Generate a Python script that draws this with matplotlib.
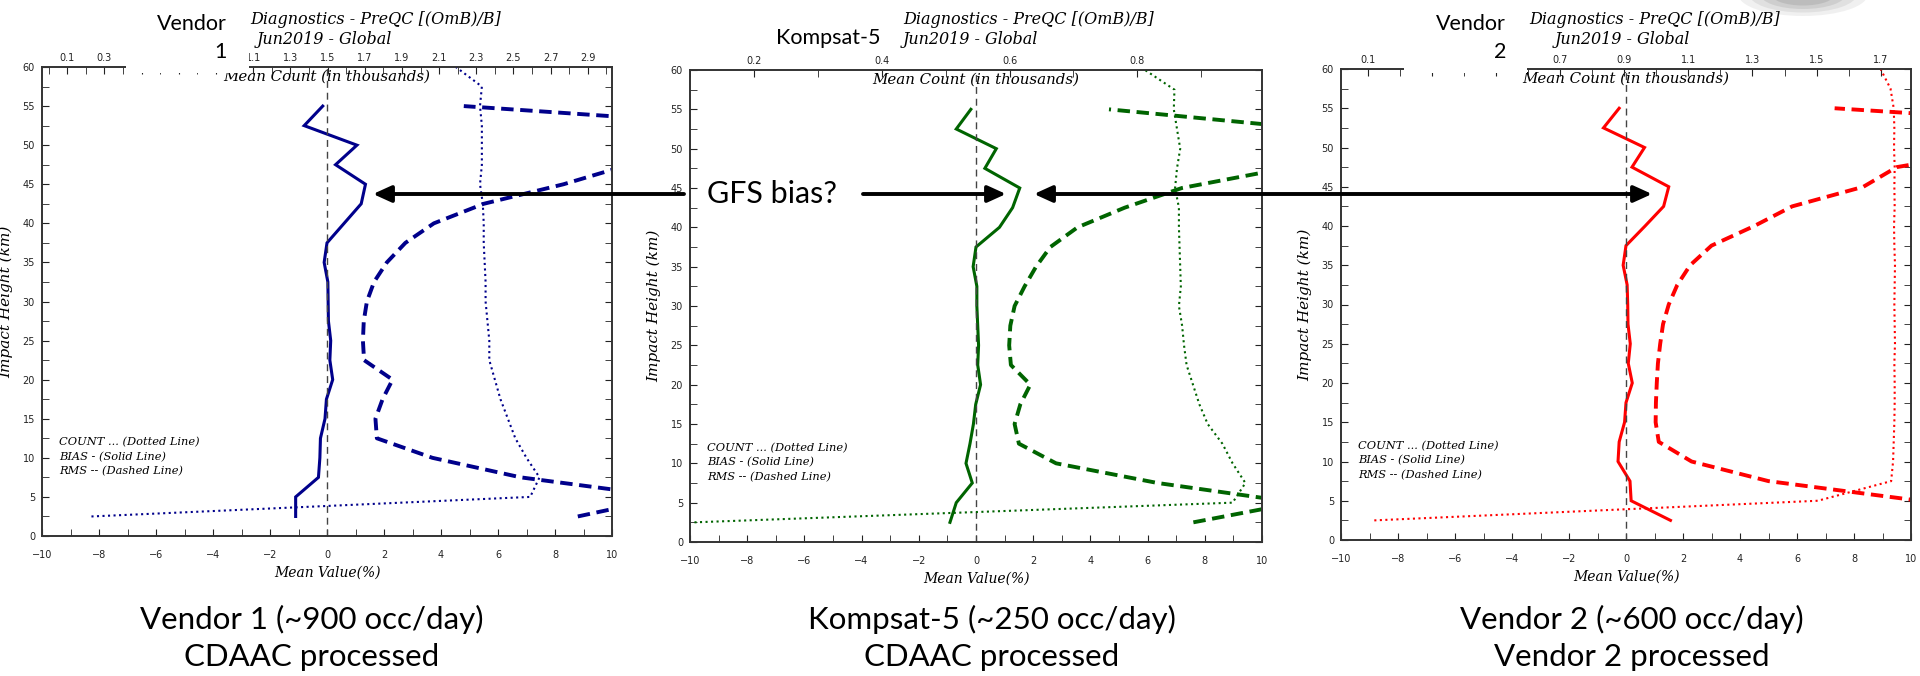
import numpy as np
import matplotlib.pyplot as plt
from matplotlib.patches import FancyArrowPatch, Rectangle, Ellipse
from matplotlib.ticker import MultipleLocator, FixedLocator, FixedFormatter

W, H = 1920, 676

# impact heights (km) for bias / rms, and for counts (two extra levels on top)
heights = [2.5, 5, 7.5, 10, 12.5, 15, 17.5, 20, 22.5, 25, 27.5, 30,
           32.5, 35, 37.5, 40, 42.5, 45, 47.5, 50, 52.5, 55]
count_heights = heights + [57.5, 60]

# Vendor 1
v1_bias = [-1.1, -1.1, -0.3, -0.25, -0.23, -0.07, -0.02, 0.2, 0.1, 0.13, 0.05,
           0.04, 0.03, -0.1, 0.0, 0.6, 1.2, 1.35, 0.3, 1.05, -0.8, -0.15]
v1_rms = [8.8, 12.0, 6.8, 3.7, 1.75, 1.7, 1.95, 2.3, 1.3, 1.26, 1.29,
          1.4, 1.65, 2.1, 2.75, 3.75, 5.5, 8.3, 10.6, 13.0, 14.8, 4.8]
v1_count = [0.23, 2.59, 2.64, 2.57, 2.51, 2.47, 2.43, 2.40, 2.37, 2.37, 2.36, 2.35,
            2.35, 2.345, 2.34, 2.34, 2.335, 2.32, 2.33, 2.33, 2.33, 2.32, 2.33, 2.19]

# Kompsat-5
k5_bias = [-0.91, -0.69, -0.13, -0.35, -0.21, -0.09, -0.01, 0.16, 0.06, 0.09, 0.06,
           0.03, 0.03, -0.1, 0.0, 0.82, 1.28, 1.53, 0.31, 0.71, -0.69, -0.18]
k5_rms = [7.6, 11.2, 6.35, 2.8, 1.5, 1.35, 1.55, 1.9, 1.22, 1.16, 1.2,
          1.35, 1.7, 2.1, 2.6, 3.55, 5.2, 7.2, 10.8, 12.5, 11.8, 4.65]
k5_count = [0.107, 0.949, 0.969, 0.949, 0.933, 0.91, 0.897, 0.887, 0.877, 0.873, 0.87, 0.865,
            0.868, 0.867, 0.866, 0.865, 0.865, 0.859, 0.862, 0.867, 0.862, 0.857, 0.858, 0.812]

# Vendor 2
v2_bias = [1.56, 0.18, 0.14, -0.28, -0.24, -0.05, 0.0, 0.22, 0.08, 0.15, 0.07,
           0.06, 0.04, -0.1, 0.0, 0.67, 1.32, 1.5, 0.21, 0.65, -0.79, -0.24]
v2_rms = [14.0, 10.3, 5.0, 2.3, 1.15, 1.04, 1.05, 1.08, 1.12, 1.2, 1.3,
          1.5, 1.8, 2.25, 3.0, 4.5, 5.83, 8.33, 9.5, 13.5, 18.0, 7.32]
v2_count = [0.119, 1.504, 1.733, 1.739, 1.741, 1.743, 1.744, 1.744, 1.743, 1.745, 1.744, 1.743,
            1.744, 1.745, 1.743, 1.742, 1.744, 1.743, 1.744, 1.742, 1.743, 1.741, 1.731, 1.70]

titles = ["Vendor\n1", "Kompsat-5", "Vendor\n2"]
captions = ["Vendor 1 (~900 occ/day)\nCDAAC processed",
            "Kompsat-5 (~250 occ/day)\nCDAAC processed",
            "Vendor 2 (~600 occ/day)\nVendor 2 processed"]
count_ticks = [np.arange(0.1, 3.0, 0.2), np.arange(0.2, 0.9, 0.2), np.arange(0.1, 1.8, 0.2)]
# labels hidden behind the name boxes are left blank
count_labels = [["0.1", "0.3", "", "", "", "1.1", "1.3", "1.5", "1.7", "1.9", "2.1",
                 "2.3", "2.5", "2.7", "2.9"],
                ["0.2", "0.4", "0.6", "0.8"],
                ["0.1", "", "", "0.7", "0.9", "1.1", "1.3", "1.5", "1.7"]]
count_limits = [(-0.036, 3.03), (0.1, 0.995), (0.015, 1.795)]

panels = [
    dict(color="#00008B", bias=v1_bias, rms=v1_rms, count=v1_count, box=(42, 67, 612, 536),
         title_x=(250, 257), name_xy=(227, 23), caption_x=312),
    dict(color="#006400", bias=k5_bias, rms=k5_rms, count=k5_count, box=(690, 70, 1262, 542),
         title_x=(903, 903), name_xy=(880, 23), caption_x=992),
    dict(color="#FF0000", bias=v2_bias, rms=v2_rms, count=v2_count, box=(1341, 69, 1911, 540),
         title_x=(1529, 1555), name_xy=(1506, 23), caption_x=1632),
]

serif = dict(family="DejaVu Serif", style="italic")

fig = plt.figure(figsize=(W / 100, H / 100), dpi=100)
fig.patch.set_facecolor("white")


def fx(x):
    return x / W


def fy(y):
    return 1 - y / H


for i, p in enumerate(panels):
    x0, y0, x1, y1 = p["box"]
    ax = fig.add_axes([fx(x0), fy(y1), (x1 - x0) / W, (y1 - y0) / H])
    ax.plot(p["bias"], heights, color=p["color"], lw=2.2, solid_joinstyle="miter")
    ax.plot(p["rms"], heights, color=p["color"], lw=2.8, dashes=(3.2, 1.7))
    ax.axvline(0, color="#444444", lw=1.0, dashes=(5, 3.5))
    ax.set_xlim(-10, 10)
    ax.set_ylim(0, 60)
    ax.xaxis.set_major_locator(MultipleLocator(2))
    ax.xaxis.set_minor_locator(MultipleLocator(1))
    ax.yaxis.set_major_locator(MultipleLocator(5))
    ax.yaxis.set_minor_locator(MultipleLocator(2.5))
    ax.tick_params(which="both", direction="in", right=True, top=False, labelsize=7,
                   colors="#222222", length=5)
    ax.tick_params(axis="x", pad=10)
    ax.tick_params(axis="y", pad=5)
    for s in ax.spines.values():
        s.set_color("#333333")
        s.set_linewidth(1.2)

    # counts on the upper axis
    ax2 = ax.twiny()
    ax2.plot(p["count"], count_heights, color=p["color"], lw=1.5, ls=":")
    ax2.set_xlim(*count_limits[i])
    ax2.xaxis.set_major_locator(FixedLocator(count_ticks[i]))
    ax2.xaxis.set_major_formatter(FixedFormatter(count_labels[i]))
    ax2.xaxis.set_minor_locator(MultipleLocator(0.1))
    ax2.tick_params(which="both", direction="in", length=5, labelsize=7, pad=3,
                    colors="#222222")
    for s in ax2.spines.values():
        s.set_color("#333333")
        s.set_linewidth(1.2)

    ax.text(0.5, 1 - 10 / (y1 - y0), "Mean Count (in thousands)", transform=ax.transAxes,
            ha="center", va="center", fontsize=10.8, **serif)
    for k, line in enumerate(["COUNT ... (Dotted Line)", "BIAS - (Solid Line)",
                              "RMS -- (Dashed Line)"]):
        ax.text(-9.4, 12.0 - 1.85 * k, line, ha="left", va="center", fontsize=8.2, **serif)

    cx = (x0 + x1) / 2
    fig.text(fx(cx), fy(y1 + 37), "Mean Value(%)", ha="center", va="center",
             fontsize=10, **serif)
    fig.text(fx(x0 - 36), fy((y0 + y1) / 2), "Impact Height (km)", rotation=90,
             ha="center", va="center", fontsize=11, **serif)

    fig.text(fx(p["title_x"][0]), fy(20), "Diagnostics - PreQC [(OmB)/B]", ha="left",
             va="center", fontsize=11.5, **serif)
    fig.text(fx(p["title_x"][1]), fy(40), "Jun2019 - Global", ha="left",
             va="center", fontsize=11.5, **serif)

    fig.text(fx(p["caption_x"]), fy(638), captions[i], ha="center", va="center",
             fontsize=22.5, family="Lato", linespacing=1.38)

# white label boxes sitting over the top axes
for bx0, bx1 in [(126, 249), (1404, 1527)]:
    fig.add_artist(Rectangle((fx(bx0), fy(73)), (bx1 - bx0) / W, 73 / H,
                             transform=fig.transFigure, facecolor="white",
                             edgecolor="none", zorder=10))

for i, p in enumerate(panels):
    nx, ny = p["name_xy"]
    fig.text(fx(nx), fy(ny + 15), titles[i], ha="right", va="center", fontsize=15.5,
             family="Lato", linespacing=1.45, multialignment="right", zorder=11)

# annotation arrows
arrow_y = fy(194) * H
arrow_kw = dict(transform=None, color="black", lw=2.8, shrinkA=0, shrinkB=0,
                mutation_scale=1, zorder=12)
for xa, xb, style in [(684, 373, "-|>"), (863, 1006, "-|>"), (1034, 1652, "<|-|>")]:
    fig.add_artist(FancyArrowPatch((xa, arrow_y), (xb, arrow_y),
                                   arrowstyle=f"{style},head_length=11,head_width=5",
                                   **arrow_kw))
fig.text(fx(772), fy(194), "GFS bias?", ha="center", va="center", fontsize=22,
         family="Lato", zorder=12)

# soft grey shape peeking in at the top right
for k, a in enumerate([0.12, 0.15, 0.2, 0.25]):
    fig.add_artist(Ellipse((1803, H + 6), 130 - 22 * k, 44 - 7 * k, transform=None,
                           facecolor="#888888", edgecolor="none", alpha=a, zorder=9))

fig.savefig("out.png", dpi=100, facecolor="white")
